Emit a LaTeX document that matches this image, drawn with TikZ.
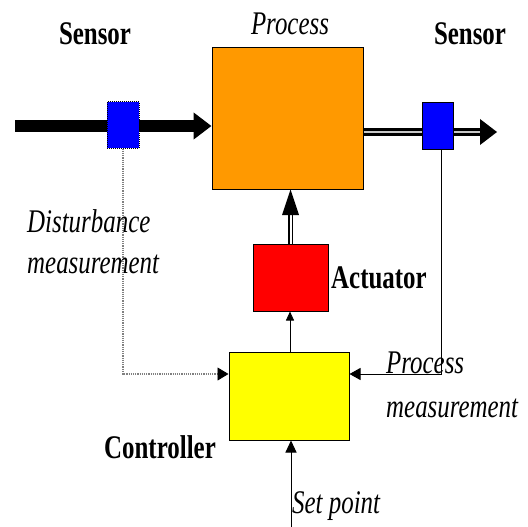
\documentclass[tikz,border=0pt]{standalone}
\usepackage{fontspec}
\setmainfont{Liberation Serif}
\usetikzlibrary{arrows.meta}
\tikzset{
  box/.style={draw=black, line width=1pt, inner sep=0pt},
  lbl/.style={inner sep=0pt, font=\fontsize{33}{36}\selectfont},
  blbl/.style={lbl, font=\fontsize{33}{36}\selectfont\bfseries},
  ilbl/.style={lbl, font=\fontsize{33}{36}\selectfont\itshape},
  tip/.style={-{Triangle[length=11pt,width=12pt]}},
}
\newcommand{\sq}[1]{\scalebox{0.755}[1]{#1}}
\begin{document}
\begin{tikzpicture}[x=1pt,y=-1pt]
\useasboundingbox (0,0) rectangle (528,527);
% boxes
\node[box, fill={rgb,255:red,255;green,153;blue,0}, minimum width=151pt, minimum height=141pt] (proc) at (287.5,118.5) {};
\node[box, fill={rgb,255:red,0;green,0;blue,255}, densely dotted, minimum width=32pt, minimum height=46pt] (sl) at (123,125) {};
\node[box, fill={rgb,255:red,0;green,0;blue,255}, minimum width=31pt, minimum height=46pt] (sr) at (437.5,126) {};
\node[box, fill={rgb,255:red,255;green,0;blue,0}, minimum width=75pt, minimum height=67pt] (act) at (290.5,277.5) {};
\node[box, fill={rgb,255:red,255;green,255;blue,0}, minimum width=120pt, minimum height=88pt] (ctl) at (289,396) {};
% coordinates
\coordinate (inL) at (15,126);
\coordinate (outR) at (497,132);
\coordinate (outRb) at (482,132);
\coordinate (dl) at (123,374);
\coordinate (dlh) at (219,374);
\coordinate (dr) at (441,374);
\coordinate (rtop) at (441,149);
\coordinate (sp) at (291,527);
% main flow left
\draw[line width=12pt, -{Triangle[length=18pt,width=26pt]}] (inL) -- (proc.west |- inL);
\node[box, fill={rgb,255:red,0;green,0;blue,255}, densely dotted, minimum width=32pt, minimum height=46pt] at (sl) {};
% main flow right (double line)
\draw[line width=2.6pt, double={rgb,255:red,200;green,200;blue,200}, double distance=2.6pt] (proc.east |- outR) -- (outRb);
\fill (480,119) -- (outR) -- (480,145) -- cycle;
\node[box, fill={rgb,255:red,0;green,0;blue,255}, minimum width=31pt, minimum height=46pt] at (sr) {};
% actuator to process (double)
\draw[line width=1.3pt, double=white, double distance=2pt] (act.north) -- (290.5,210);
\fill (282,215) -- (290.5,189.5) -- (299,215) -- cycle;
% controller to actuator
\draw[line width=0.8pt, -{Triangle[length=9pt,width=8pt]}] (ctl.north -| 290,0) -- (act.south -| 290,0);
% feedback
\draw[gray, line width=1.2pt, densely dotted] (sl.south) -- (dl) -- (dlh);
\draw[line width=0.8pt, -{Triangle[length=11pt,width=13pt]}] (dlh) -- (ctl.west |- dl);
\draw[line width=1pt, tip] (rtop) -- (dr) -- (ctl.east |- dr);
\draw[line width=1pt, -{Triangle[length=12pt,width=11pt]}] (sp) -- (ctl.south -| sp);
% labels
\node[blbl, anchor=base] (t1) at (95,45) {\sq{Sensor}};
\node[blbl, anchor=base] (t2) at (470,45) {\sq{Sensor}};
\node[ilbl, anchor=base] (t3) at (290,35) {\sq{Process}};
\node[blbl, anchor=base west] (t4) at (331,288) {\sq{Actuator}};
\node[blbl, anchor=base west] (t5) at (104,458) {\sq{Controller}};
\node[ilbl, anchor=base west] (t6) at (27,232) {\sq{Disturbance}};
\node[ilbl, anchor=base west] (t7) at (27,273) {\sq{measurement}};
\node[ilbl, anchor=base west] (t8) at (386,373) {\sq{Process}};
\node[ilbl, anchor=base west] (t9) at (386,417) {\sq{measurement}};
\node[ilbl, anchor=base west] (t10) at (292,513) {\sq{Set point}};
\end{tikzpicture}
\end{document}
